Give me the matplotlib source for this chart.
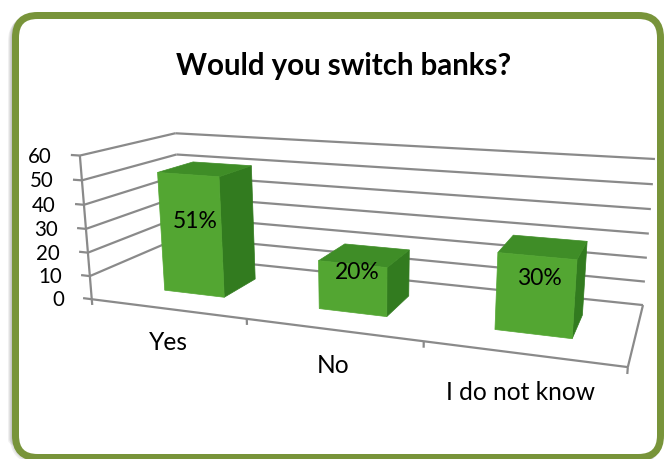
import numpy as np
import matplotlib
matplotlib.use("Agg")
import matplotlib.pyplot as plt
from matplotlib.patches import Polygon, FancyBboxPatch

# ---------------- data ----------------
categories = ["Yes", "No", "I do not know"]
values = [51, 20, 30]
value_labels = ["51%", "20%", "30%"]
value_ticks = [0, 10, 20, 30, 40, 50, 60]
title = "Would you switch banks?"

# ---------------- style / layout ----------------
W, H = 667, 459
FONT = ["Lato", "DejaVu Sans"]
GRID = "#8a8a8a"
FRONT, TOP, SIDE = "#53a632", "#3f8d27", "#327b1f"
FRAME = "#78943a"
BAR_W = 0.4            # gap width 150 %
BAR_Z = (0.3, 0.7)     # gap depth 150 %
YMAX = 60

# camera calibration of the 3-D chart box: (category pos, value, depth) -> pixel
CAL_3D = np.array([(0, 0, 0), (0, 60, 0), (0, 30, 0), (0, 10, 0), (0, 60, 1),
                   (3, 60, 1), (3, 30, 1), (3, 10, 1), (3, 0, 1), (3, 0, 0),
                   (1, 0, 0), (2, 0, 0)], float)
CAL_PX = np.array([(92, 300), (80, 155), (86, 228), (90, 276), (175, 133.5),
                   (655, 160), (649, 233), (645, 282), (643, 304), (628, 367),
                   (246.7, 319.5), (423, 341.5)], float)

CU, CV, CS = 330.0, 250.0, 300.0


def solve_camera(p3, p2):
    rows = []
    for (X, Y, Z), (u, v) in zip(p3, p2):
        h = [X, Y / 20.0, Z, 1.0]
        un, vn = (u - CU) / CS, (v - CV) / CS
        rows.append(h + [0, 0, 0, 0] + [-un * a for a in h])
        rows.append([0, 0, 0, 0] + h + [-vn * a for a in h])
    _, _, vt = np.linalg.svd(np.array(rows))
    return vt[-1].reshape(3, 4)


CAM = solve_camera(CAL_3D, CAL_PX)


def P(X, Y, Z):
    h = CAM @ np.array([X, Y / 20.0, Z, 1.0])
    return np.array([h[0] / h[2] * CS + CU, h[1] / h[2] * CS + CV])


plt.rcParams["font.family"] = FONT
fig = plt.figure(figsize=(W / 100, H / 100), dpi=100)
ax = fig.add_axes([0, 0, 1, 1])
ax.set_xlim(0, W)
ax.set_ylim(H, 0)
ax.axis("off")

# soft shadow + rounded green frame
for k in (1, 2, 3, 4):
    ax.add_patch(FancyBboxPatch((15.5 - k, 15.5 + k), 645, 442,
                                boxstyle="round,pad=0,rounding_size=22",
                                fc="none", ec="#000000", alpha=0.06,
                                lw=7 * 0.72, zorder=0.5))
ax.add_patch(FancyBboxPatch((15.5, 15.5), 645, 442,
                            boxstyle="round,pad=0,rounding_size=22",
                            fc="white", ec=FRAME, lw=7 * 0.72, zorder=1))

ncat = len(categories)


def seg(a, b):
    ax.plot([a[0], b[0]], [a[1], b[1]], color=GRID, lw=1.6,
            solid_capstyle="butt", zorder=2)


# wall gridlines, value axis and ticks, floor edges
for v in value_ticks:
    if v > 0:
        seg(P(0, v, 0), P(0, v, 1))
    seg(P(0, v, 1), P(ncat, v, 1))
    seg(P(0, v, 0), P(-0.06, v, 0))
seg(P(0, 0, 0), P(0, YMAX, 0))
seg(P(0, 0, 0), P(ncat, 0, 0))
seg(P(ncat, 0, 0), P(ncat, 0, 1))
for i in range(ncat + 1):
    seg(P(i, 0, 0), P(i, -2.5, 0))

# 3-D columns
z0, z1 = BAR_Z
bar_boxes = []
for i, v in enumerate(values):
    x0 = i + 0.5 - BAR_W / 2
    x1 = i + 0.5 + BAR_W / 2
    front = [P(x0, 0, z0), P(x1, 0, z0), P(x1, v, z0), P(x0, v, z0)]
    top = [P(x0, v, z0), P(x1, v, z0), P(x1, v, z1), P(x0, v, z1)]
    side = [P(x1, 0, z0), P(x1, 0, z1), P(x1, v, z1), P(x1, v, z0)]
    for poly, c in ((side, SIDE), (top, TOP), (front, FRONT)):
        ax.add_patch(Polygon(poly, closed=True, fc=c, ec=c, lw=0.5, zorder=3))
    allp = np.array(front + top + side)
    bar_boxes.append((np.mean([p[0] for p in front]),
                      (allp[:, 1].min() + allp[:, 1].max()) / 2))

# texts
t_title = ax.text(344, 75, title, ha="center", va="baseline",
                  fontweight="bold", fontsize=20, zorder=5)
t_vals = []
for v in value_ticks:
    p = P(0, v, 0)
    t_vals.append(ax.text(p[0] - 28, p[1] + 1, str(v), ha="right", va="center",
                          fontsize=14, zorder=5))
t_cats = []
for i, c in enumerate(categories):
    p = P(i + 0.5, -14.5, 0)
    t_cats.append(ax.text(p[0], p[1], c, ha="center", va="center",
                          fontsize=14, zorder=5))
t_labs = []
for (cx, cy), s in zip(bar_boxes, value_labels):
    t_labs.append(ax.text(cx + 4, cy - 8, s, ha="center", va="center",
                          fontsize=14, zorder=5))

# fit font sizes to the reference text widths
fig.canvas.draw()
r = fig.canvas.get_renderer()


def fit(group, ref, target):
    w = ref.get_window_extent(r).width
    fs = ref.get_fontsize() * target / w
    for t in group:
        t.set_fontsize(fs)


fit([t_title], t_title, 336)
fit(t_vals, t_vals[5], 24)
fit(t_cats, t_cats[2], 150)
fit(t_labs, t_labs[0], 45)

fig.savefig("out.png", dpi=100)
